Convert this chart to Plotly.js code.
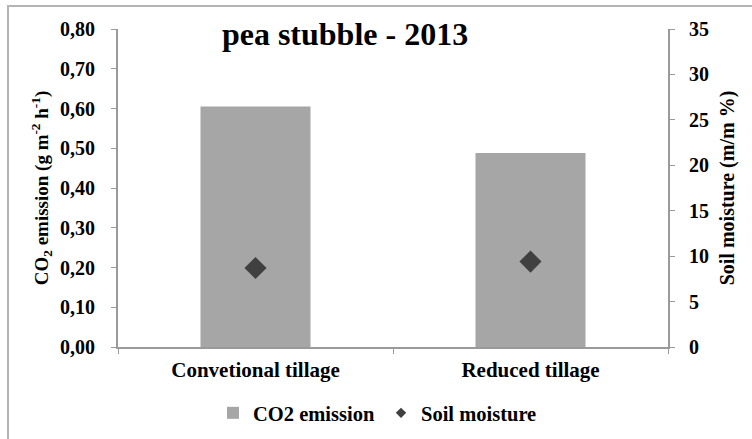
<!DOCTYPE html>
<html>
<head>
<meta charset="utf-8">
<script src="https://cdn.plot.ly/plotly-3.0.1.min.js"></script>
<style>
  html, body { margin: 0; padding: 0; background: #ffffff; overflow: hidden; }
  #frame { position: absolute; left: 7px; top: 5px; width: 800px; height: 500px;
           border-left: 2px solid #b4b4b4; border-top: 2px solid #b4b4b4; }
  #chart { position: absolute; left: 0; top: 0; width: 752px; height: 439px; }
</style>
</head>
<body>
<div id="frame"></div>
<div id="chart"></div>
<script>
// ---- data ----
const categories = ['Convetional tillage', 'Reduced tillage'];
const co2Emission = [0.605, 0.488];
const soilMoisture = [8.7, 9.4];
const leftTicks = [0, 0.1, 0.2, 0.3, 0.4, 0.5, 0.6, 0.7, 0.8];
const rightTicks = [0, 5, 10, 15, 20, 25, 30, 35];

const FONT = '"Liberation Serif", "Times New Roman", serif';
const AXIS_COLOR = '#9a9a9a';

const traces = [
  {
    type: 'bar',
    name: 'CO2 emission',
    x: categories,
    y: co2Emission,
    width: 0.4,
    marker: { color: '#a6a6a6' },
    yaxis: 'y',
    legend: 'legend'
  },
  {
    type: 'scatter',
    mode: 'markers',
    name: 'Soil moisture',
    x: categories,
    y: soilMoisture,
    yaxis: 'y2',
    marker: { symbol: 'diamond', size: 17, color: '#404040' },
    showlegend: false,
    legendgroup: 'sm',
    legend: 'legend2'
  },
  {
    // legend entry only (smaller symbol as in the reference legend)
    type: 'scatter',
    mode: 'markers',
    name: 'Soil moisture',
    x: [null],
    y: [null],
    yaxis: 'y2',
    marker: { symbol: 'diamond', size: 8, color: '#404040' },
    legendgroup: 'sm',
    legend: 'legend2'
  }
];

const legendFont = { family: FONT, size: 20.5, color: '#000000', weight: 'bold' };

const layout = {
  width: 752,
  height: 439,
  margin: { l: 118, r: 84, t: 29, b: 92, pad: 0, autoexpand: false },
  paper_bgcolor: 'rgba(0,0,0,0)',
  plot_bgcolor: 'rgba(0,0,0,0)',
  separators: ', ',
  font: { family: FONT, color: '#000000', weight: 'bold' },
  title: {
    text: 'pea stubble - 2013',
    font: { family: FONT, size: 32, color: '#000000', weight: 'bold' },
    x: 345 / 752,
    xanchor: 'center',
    xref: 'container',
    y: 1 - 34 / 439,
    yanchor: 'middle',
    yref: 'container'
  },
  showlegend: true,
  legend: {
    orientation: 'h',
    xref: 'container',
    yref: 'container',
    x: 213 / 752,
    xanchor: 'left',
    y: 1 - 413 / 439,
    yanchor: 'middle',
    font: legendFont,
    bgcolor: 'rgba(0,0,0,0)',
    itemwidth: 30
  },
  legend2: {
    orientation: 'h',
    xref: 'container',
    yref: 'container',
    x: 381 / 752,
    xanchor: 'left',
    y: 1 - 413 / 439,
    yanchor: 'middle',
    font: legendFont,
    bgcolor: 'rgba(0,0,0,0)',
    itemwidth: 30
  },
  xaxis: {
    type: 'category',
    showgrid: false,
    showline: true,
    linecolor: AXIS_COLOR,
    linewidth: 2,
    ticks: 'outside',
    tickson: 'boundaries',
    ticklen: 5,
    tickcolor: AXIS_COLOR,
    tickwidth: 1,
    ticklabelstandoff: 3,
    tickfont: { family: FONT, size: 21, color: '#000000', weight: 'bold' },
    zeroline: false,
    fixedrange: true
  },
  yaxis: {
    range: [0, 0.8],
    tickvals: leftTicks,
    tickformat: '.2f',
    showgrid: false,
    zeroline: false,
    showline: true,
    linecolor: AXIS_COLOR,
    linewidth: 2,
    ticks: 'outside',
    ticklen: 5,
    tickcolor: AXIS_COLOR,
    tickwidth: 1,
    ticklabelstandoff: 12,
    tickfont: { family: FONT, size: 20, color: '#000000', weight: 'bold' },
    title: {
      text: 'CO<sub>2</sub> emission (g m<sup>-2</sup> h<sup>-1</sup>)',
      font: { family: FONT, size: 19, color: '#000000', weight: 'bold' },
      standoff: 6
    },
    fixedrange: true
  },
  yaxis2: {
    overlaying: 'y',
    side: 'right',
    range: [0, 35],
    tickvals: rightTicks,
    showgrid: false,
    zeroline: false,
    showline: true,
    linecolor: AXIS_COLOR,
    linewidth: 2,
    ticks: 'outside',
    ticklen: 5,
    tickcolor: AXIS_COLOR,
    tickwidth: 1,
    ticklabelstandoff: 10,
    tickfont: { family: FONT, size: 20, color: '#000000', weight: 'bold' },
    title: {
      text: 'Soil moisture (m/m %)',
      font: { family: FONT, size: 20, color: '#000000', weight: 'bold' },
      standoff: 12
    },
    fixedrange: true
  }
};

Plotly.newPlot('chart', traces, layout, { displayModeBar: false, staticPlot: true });
</script>
</body>
</html>
